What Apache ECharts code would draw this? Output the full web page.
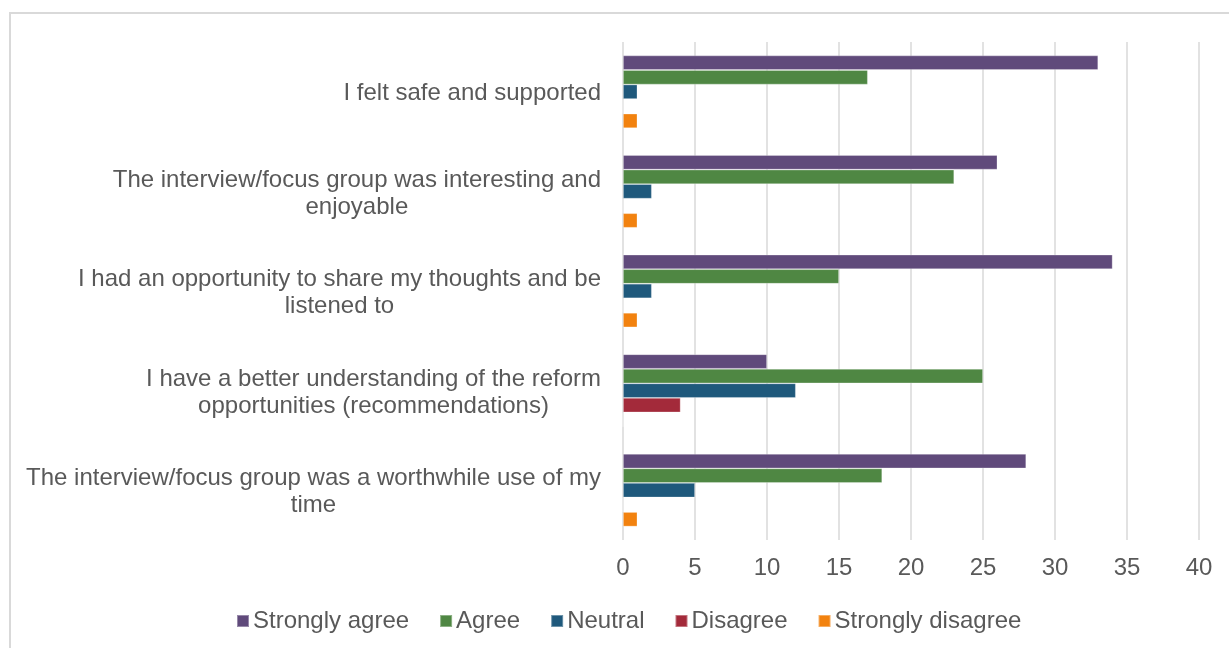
<!DOCTYPE html>
<html>
<head>
<meta charset="utf-8">
<script src="https://cdn.jsdelivr.net/npm/echarts@6/dist/echarts.min.js"></script>
<style>
  html, body { margin: 0; padding: 0; background: #fff; }
  #frame { position: absolute; left: 9px; top: 12px; width: 1300px; height: 700px; border: 2px solid #d9d9d9; box-sizing: border-box; }
  #chart { position: absolute; left: 0; top: 0; width: 1229px; height: 648px; }
</style>
</head>
<body>
<div id="frame"></div>
<div id="chart"></div>
<script>
const categories = [
  "I felt safe and supported",
  "The interview/focus group was interesting and\nenjoyable",
  "I had an opportunity to share my thoughts and be\nlistened to",
  "I have a better understanding of the reform\nopportunities (recommendations)",
  "The interview/focus group was a worthwhile use of my\ntime"
];
const seriesNames = ["Strongly agree", "Agree", "Neutral", "Disagree", "Strongly disagree"];
const stronglyAgree = [33, 26, 34, 10, 28];
const agree = [17, 23, 15, 25, 18];
const neutral = [1, 2, 2, 12, 5];
const disagree = [0, 0, 0, 4, 0];
const stronglyDisagree = [1, 1, 1, 0, 1];
const xTicks = { min: 0, max: 40, interval: 5 };

const colors = ["#604A7B", "#4F8743", "#1F597C", "#A32A3A", "#F2820F"];
const values = [stronglyAgree, agree, neutral, disagree, stronglyDisagree];
const font = "Liberation Sans, Arial, sans-serif";

const chart = echarts.init(document.getElementById('chart'), null, { renderer: 'canvas' });
chart.setOption({
  animation: false,
  backgroundColor: 'transparent',
  color: colors,
  textStyle: { fontFamily: font },
  grid: { left: 623, right: 30, top: 42, bottom: 108, containLabel: false },
  legend: {
    data: seriesNames,
    bottom: 10,
    left: 231,
    itemWidth: 12,
    itemHeight: 12,
    itemGap: 30,
    icon: 'rect',
    textStyle: { fontSize: 24, color: '#595959', fontFamily: font, padding: [0, 0, 0, -1] }
  },
  xAxis: {
    type: 'value',
    min: xTicks.min, max: xTicks.max, interval: xTicks.interval,
    axisLine: { show: false },
    axisTick: { show: false },
    axisLabel: { fontSize: 24, color: '#595959', margin: 16, fontFamily: font },
    splitLine: { show: true, lineStyle: { color: '#d9d9d9', width: 1.5 } }
  },
  yAxis: {
    type: 'category',
    data: categories,
    inverse: true,
    axisLine: { show: false },
    axisTick: { show: false },
    axisLabel: {
      margin: 22,
      color: '#595959',
      fontSize: 24,
      fontFamily: font,
      formatter: v => v.split('\n').map(l => '{c|' + l + '}').join('\n'),
      rich: { c: { align: 'center', fontSize: 24, color: '#595959', lineHeight: 27, fontFamily: font, padding: [4, 0, 0, 0] } }
    }
  },
  series: seriesNames.map((name, i) => ({
    name,
    type: 'bar',
    data: values[i],
    barGap: '0%',
    barCategoryGap: '27%',
    itemStyle: { color: colors[i], borderColor: 'rgba(255,255,255,0.35)', borderWidth: 0.8 }
  }))
});
</script>
</body>
</html>
